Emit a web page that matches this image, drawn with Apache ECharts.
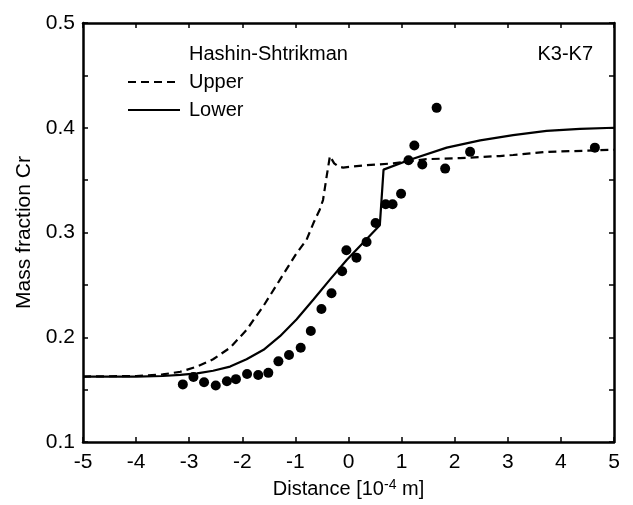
<!DOCTYPE html>
<html>
<head>
<meta charset="utf-8">
<script src="https://cdn.jsdelivr.net/npm/echarts@6/dist/echarts.min.js"></script>
<style>
  html, body { margin: 0; padding: 0; background: #fff; }
  #chart { width: 633px; height: 505px; }
</style>
</head>
<body>
<div id="chart"></div>
<script>
// 测量点（距离 10^-4 m，Cr 质量分数）
var measX = [-3.12, -2.92, -2.72, -2.50, -2.29, -2.12, -1.91, -1.70, -1.51, -1.32,
             -1.12, -0.90, -0.71, -0.51, -0.32, -0.12, -0.04, 0.15, 0.34, 0.51,
             0.70, 0.83, 0.99, 1.13, 1.24, 1.39, 1.66, 1.82, 2.29, 4.64];
var measY = [0.155, 0.162, 0.157, 0.154, 0.158, 0.160, 0.165, 0.164, 0.166, 0.177,
             0.183, 0.190, 0.206, 0.227, 0.242, 0.263, 0.283, 0.276, 0.291, 0.309,
             0.327, 0.327, 0.337, 0.369, 0.383, 0.365, 0.419, 0.361, 0.377, 0.381];

// Hashin-Shtrikman 上限（虚线）
var upperX = [-5, -4, -3.5, -3.17, -2.85, -2.55, -2.23, -1.92, -1.60, -1.29, -0.98, -0.79,
              -0.66, -0.54, -0.48, -0.41, -0.35, -0.27, -0.19, -0.10, 0.28, 0.84, 1.47,
              2.10, 2.85, 3.10, 3.73, 4.42, 5];
var upperY = [0.1625, 0.163, 0.1645, 0.167, 0.172, 0.179, 0.190, 0.207, 0.230, 0.255, 0.280, 0.293,
              0.309, 0.322, 0.331, 0.354, 0.373, 0.366, 0.363, 0.362, 0.364, 0.366, 0.370,
              0.371, 0.373, 0.374, 0.377, 0.378, 0.379];

// Hashin-Shtrikman 下限（实线）
var lowerX = [-5, -4, -3.5, -3.17, -2.85, -2.55, -2.23, -1.92, -1.60, -1.29, -0.98, -0.66, -0.35,
              -0.03, 0.59, 0.66, 1.13, 1.85, 2.48, 3.10, 3.73, 4.36, 5];
var lowerY = [0.1625, 0.1625, 0.163, 0.164, 0.1655, 0.168, 0.172, 0.179, 0.188, 0.201, 0.217, 0.236, 0.255,
              0.274, 0.307, 0.360, 0.369, 0.381, 0.388, 0.393, 0.397, 0.399, 0.400];

var xTicks = [-5, 5, 1];      // min, max, interval
var yTicks = [0.1, 0.5, 0.1];

var FONT = '"Liberation Sans", Arial, sans-serif';

function pairs(xs, ys) {
    var out = [];
    for (var i = 0; i < xs.length; i++) {
        out.push([xs[i], ys[i]]);
    }
    return out;
}

var chart = echarts.init(document.getElementById('chart'));

var axisLine = { show: true, onZero: false, lineStyle: { color: '#000', width: 2.5 } },
    tickStyle = { show: true, inside: true, length: 5, lineStyle: { color: '#000', width: 1.5 } },
    minorStyle = { show: true, splitNumber: 2, length: 5, lineStyle: { color: '#000', width: 1.5 } };

var option = {
    animation: false,
    backgroundColor: '#fff',
    textStyle: { fontFamily: FONT, color: '#000' },
    grid: { left: 83, right: 19, top: 23, bottom: 63 },
    title: [
        {
            text: 'Hashin-Shtrikman',
            left: 184, top: 39,
            textStyle: { fontFamily: FONT, fontSize: 20, fontWeight: 'normal', color: '#000' }
        },
        {
            text: 'K3-K7',
            right: 35, top: 39,
            textStyle: { fontFamily: FONT, fontSize: 20, fontWeight: 'normal', color: '#000' }
        }
    ],
    legend: {
        orient: 'vertical',
        left: 122, top: 67,
        itemWidth: 52, itemHeight: 16, itemGap: 8,
        itemStyle: { color: 'rgba(0,0,0,0)', borderWidth: 0 },
        textStyle: { fontFamily: FONT, fontSize: 20, color: '#000', padding: [0, 0, 0, 4] },
        data: ['Upper', 'Lower']
    },
    xAxis: [
        {
            type: 'value',
            min: xTicks[0], max: xTicks[1], interval: xTicks[2],
            name: '{a|Distance [10}{s|-4}{a| m]}',
            nameLocation: 'middle', nameGap: 36,
            nameTextStyle: {
                rich: {
                    a: { fontFamily: FONT, fontSize: 20, color: '#000' },
                    s: { fontFamily: FONT, fontSize: 14, color: '#000', verticalAlign: 'top', padding: [0, 0, 9, 0] }
                }
            },
            axisLine: axisLine, axisTick: tickStyle,
            axisLabel: { fontFamily: FONT, fontSize: 21, color: '#000', margin: 10 },
            splitLine: { show: false }
        },
        {
            type: 'value', position: 'top',
            min: xTicks[0], max: xTicks[1], interval: xTicks[2],
            axisLine: axisLine, axisTick: tickStyle,
            axisLabel: { show: false }, splitLine: { show: false }
        }
    ],
    yAxis: [
        {
            type: 'value',
            min: yTicks[0], max: yTicks[1], interval: yTicks[2],
            name: 'Mass fraction Cr',
            nameLocation: 'middle', nameGap: 43,
            nameTextStyle: { fontFamily: FONT, fontSize: 21, color: '#000' },
            axisLine: axisLine, axisTick: tickStyle, minorTick: minorStyle,
            axisLabel: { fontFamily: FONT, fontSize: 21, color: '#000', margin: 8 },
            splitLine: { show: false }
        },
        {
            type: 'value', position: 'right',
            min: yTicks[0], max: yTicks[1], interval: yTicks[2],
            axisLine: axisLine, axisTick: tickStyle, minorTick: minorStyle,
            axisLabel: { show: false }, splitLine: { show: false }
        }
    ],
    series: [
        {
            name: 'Upper',
            type: 'line',
            data: pairs(upperX, upperY),
            showSymbol: false, symbol: 'none',
            lineStyle: { color: '#000', width: 2.2, type: [8, 5] },
            itemStyle: { color: '#000' }
        },
        {
            name: 'Lower',
            type: 'line',
            data: pairs(lowerX, lowerY),
            showSymbol: false, symbol: 'none',
            lineStyle: { color: '#000', width: 2.2 },
            itemStyle: { color: '#000' }
        },
        {
            name: 'Measured',
            type: 'scatter',
            data: pairs(measX, measY),
            symbol: 'circle', symbolSize: 10,
            itemStyle: { color: '#000', opacity: 1 }
        }
    ]
};

chart.setOption(option);
</script>
</body>
</html>
